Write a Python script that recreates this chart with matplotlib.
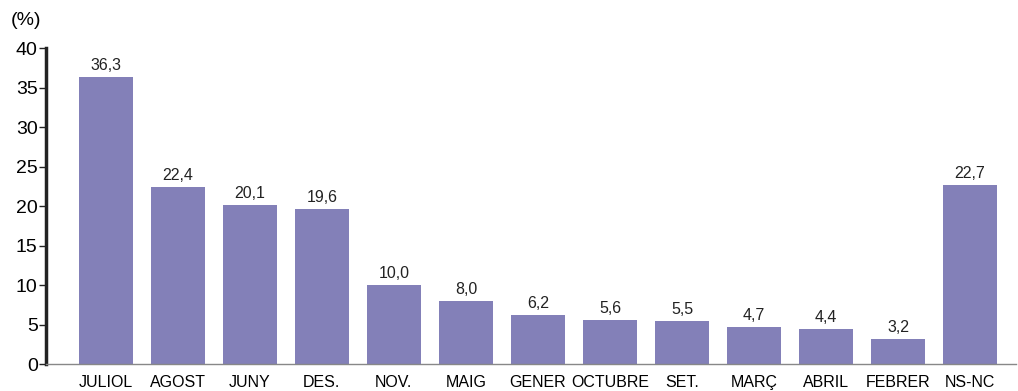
import matplotlib.pyplot as plt
import numpy as np

plt.rcParams['font.family'] = ['Liberation Sans', 'DejaVu Sans']

# percentages by month
months = ['JULIOL', 'AGOST', 'JUNY', 'DES.', 'NOV.', 'MAIG', 'GENER',
          'OCTUBRE', 'SET.', 'MARÇ', 'ABRIL', 'FEBRER', 'NS-NC']
values = [36.3, 22.4, 20.1, 19.6, 10.0, 8.0, 6.2, 5.6, 5.5, 4.7, 4.4, 3.2, 22.7]
yticks = [0, 5, 10, 15, 20, 25, 30, 35, 40]

fig = plt.figure(figsize=(10.18, 3.91), dpi=100)
ax = fig.add_axes([0.0452, 0.069, 0.953, 0.808])

x = np.arange(len(months))
ax.bar(x, values, width=0.75, color='#8380b8')
for xi, v in zip(x, values):
    ax.text(xi, v + 0.5, f'{v:.1f}'.replace('.', ','), ha='center', va='bottom',
            fontsize=11.5, color='#222222')

ax.set_xlim(-0.83, 12.64)
ax.set_ylim(0, 40)
ax.set_xticks(x)
ax.set_xticklabels(months, fontsize=11.5)
ax.tick_params(axis='x', length=0, pad=8)
ax.set_yticks(yticks)
ax.tick_params(axis='y', labelsize=14, length=5, width=1, pad=1, color='#222222')

for s in ['top', 'right']:
    ax.spines[s].set_visible(False)
ax.spines['left'].set_linewidth(2.5)
ax.spines['left'].set_color('#222222')
ax.spines['bottom'].set_linewidth(1)
ax.spines['bottom'].set_color('#888888')

fig.text(0.011, 0.925, '(%)', fontsize=14, ha='left', va='bottom')

plt.savefig('out.png', dpi=100)
